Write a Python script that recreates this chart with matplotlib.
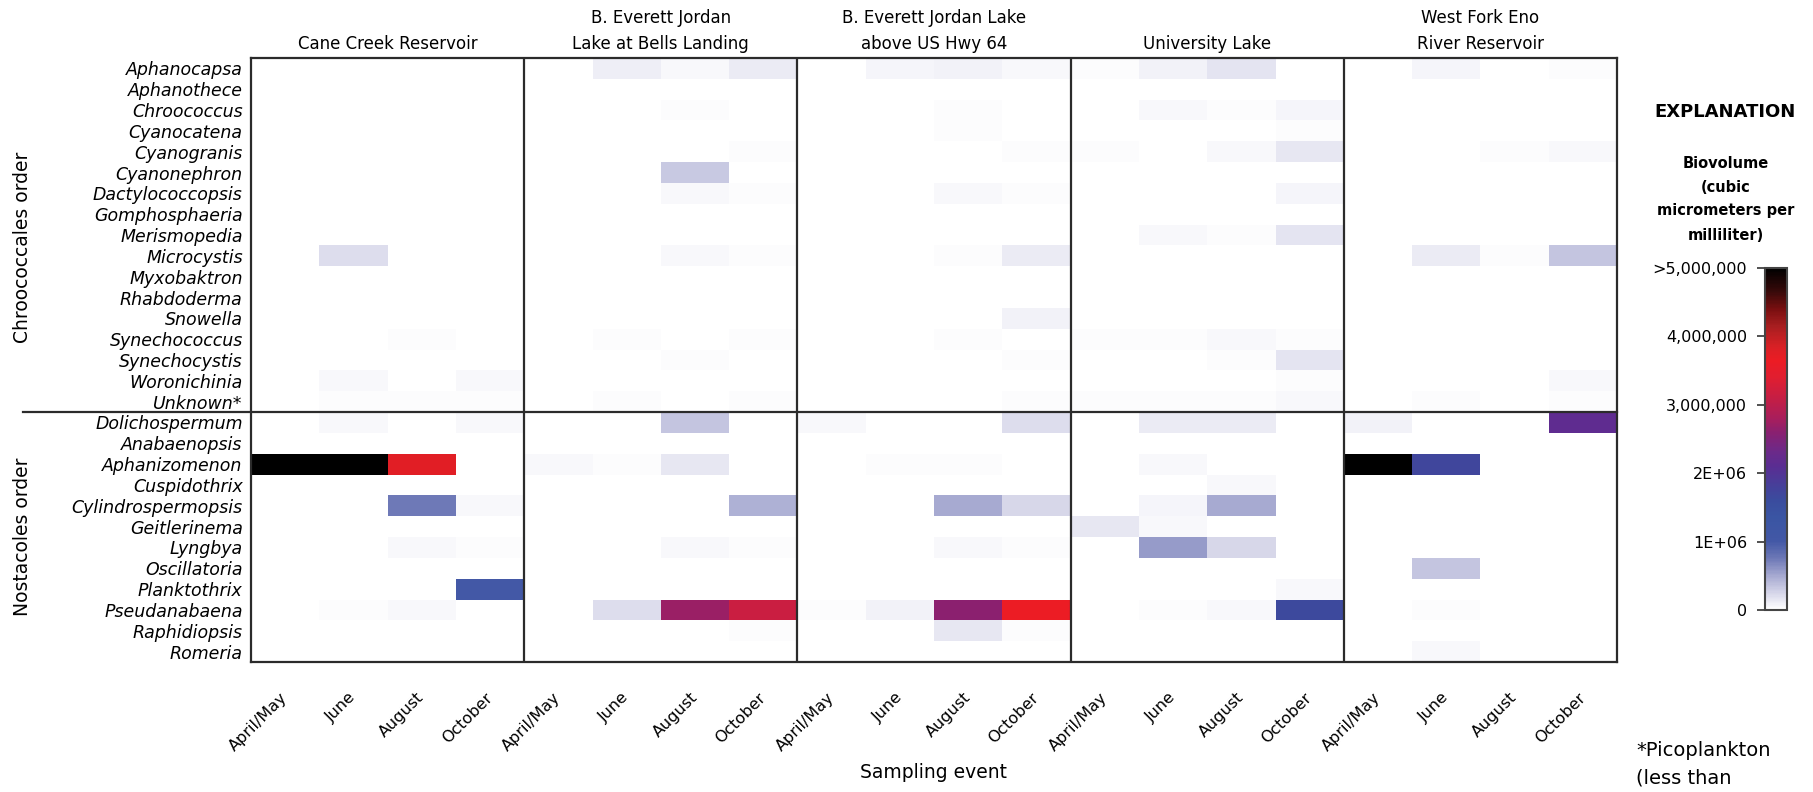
import numpy as np
import matplotlib
matplotlib.use("Agg")
import matplotlib.pyplot as plt
from matplotlib.colors import LinearSegmentedColormap, Normalize
from matplotlib.lines import Line2D
from matplotlib import transforms

lakes = ["Cane Creek Reservoir",
         "B. Everett Jordan\nLake at Bells Landing",
         "B. Everett Jordan Lake\nabove US Hwy 64",
         "University Lake",
         "West Fork Eno\nRiver Reservoir"]
events = ["April/May", "June", "August", "October"]

chroococcales = ["Aphanocapsa", "Aphanothece", "Chroococcus", "Cyanocatena",
                 "Cyanogranis", "Cyanonephron", "Dactylococcopsis", "Gomphosphaeria",
                 "Merismopedia", "Microcystis", "Myxobaktron", "Rhabdoderma",
                 "Snowella", "Synechococcus", "Synechocystis", "Woronichinia",
                 "Unknown*"]
nostocales = ["Dolichospermum", "Anabaenopsis", "Aphanizomenon", "Cuspidothrix",
              "Cylindrospermopsis", "Geitlerinema", "Lyngbya", "Oscillatoria",
              "Planktothrix", "Pseudanabaena", "Raphidiopsis", "Romeria"]

# biovolume in thousands of cubic micrometers per milliliter,
# one row per genus (chroococcales then nostocales), one column per event
cane_creek = [
    [0, 0, 0, 0], [0, 0, 0, 0], [0, 0, 0, 0], [0, 0, 0, 0],
    [0, 0, 0, 0], [0, 0, 0, 0], [0, 0, 0, 0], [0, 0, 0, 0],
    [0, 0, 0, 0], [0, 200, 0, 0], [0, 0, 0, 0], [0, 0, 0, 0],
    [0, 0, 0, 0], [0, 0, 25, 0], [0, 0, 0, 0], [0, 45, 0, 45],
    [0, 25, 25, 25],
    [0, 55, 0, 45], [0, 0, 0, 0], [5600, 5600, 3750, 0], [0, 0, 0, 0],
    [0, 0, 750, 45], [0, 0, 0, 0], [0, 0, 50, 25], [0, 0, 0, 0],
    [0, 0, 0, 1000], [0, 25, 45, 0], [0, 0, 0, 0], [0, 0, 0, 0],
]
bells_landing = [
    [0, 115, 55, 125], [0, 0, 0, 0], [0, 0, 35, 0], [0, 0, 0, 0],
    [0, 0, 0, 30], [0, 0, 325, 0], [0, 0, 45, 25], [0, 0, 0, 0],
    [0, 0, 0, 0], [0, 0, 55, 30], [0, 0, 0, 0], [0, 0, 0, 0],
    [0, 0, 0, 0], [0, 25, 0, 30], [0, 0, 25, 0], [0, 0, 0, 0],
    [0, 25, 0, 25],
    [0, 0, 350, 0], [0, 0, 0, 0], [45, 25, 150, 0], [0, 0, 0, 0],
    [0, 0, 0, 450], [0, 0, 0, 0], [0, 0, 50, 25], [0, 0, 0, 0],
    [0, 0, 0, 0], [0, 200, 2700, 3150], [0, 0, 0, 20], [0, 0, 0, 0],
]
hwy_64 = [
    [0, 60, 95, 45], [0, 0, 0, 0], [0, 0, 25, 0], [0, 0, 25, 0],
    [0, 0, 0, 25], [0, 0, 0, 0], [0, 0, 45, 25], [0, 0, 0, 0],
    [0, 0, 0, 0], [0, 0, 25, 125], [0, 0, 0, 0], [0, 0, 0, 0],
    [0, 0, 0, 95], [0, 0, 25, 0], [0, 0, 0, 25], [0, 0, 0, 0],
    [0, 0, 0, 25],
    [45, 0, 0, 200], [0, 0, 0, 0], [0, 25, 25, 0], [0, 0, 0, 0],
    [0, 0, 500, 250], [0, 0, 0, 0], [0, 0, 50, 25], [0, 0, 0, 0],
    [0, 0, 0, 0], [25, 95, 2600, 3650], [0, 0, 150, 25], [0, 0, 0, 0],
]
university = [
    [25, 95, 165, 0], [0, 0, 0, 0], [0, 45, 25, 60], [0, 0, 0, 25],
    [25, 0, 40, 140], [0, 0, 0, 0], [0, 0, 0, 60], [0, 0, 0, 0],
    [0, 55, 35, 165], [0, 0, 0, 0], [0, 0, 0, 0], [0, 0, 0, 0],
    [0, 0, 0, 0], [25, 25, 50, 25], [0, 0, 25, 165], [0, 0, 0, 25],
    [20, 20, 20, 45],
    [0, 125, 125, 0], [0, 0, 0, 0], [0, 45, 0, 0], [0, 0, 45, 0],
    [0, 60, 490, 0], [140, 45, 0, 0], [0, 570, 235, 0], [0, 0, 0, 0],
    [0, 0, 0, 45], [0, 25, 45, 1650], [0, 0, 0, 0], [0, 0, 0, 0],
]
west_fork = [
    [0, 60, 0, 35], [0, 0, 0, 0], [0, 0, 0, 0], [0, 0, 0, 0],
    [0, 0, 25, 45], [0, 0, 0, 0], [0, 0, 0, 0], [0, 0, 0, 0],
    [0, 0, 0, 0], [0, 125, 25, 350], [0, 0, 0, 0], [0, 0, 0, 0],
    [0, 0, 0, 0], [0, 0, 0, 0], [0, 0, 0, 0], [0, 0, 0, 55],
    [0, 25, 0, 25],
    [95, 0, 0, 2150], [0, 0, 0, 0], [5600, 1700, 0, 0], [0, 0, 0, 0],
    [0, 0, 0, 0], [0, 0, 0, 0], [0, 0, 0, 0], [0, 350, 0, 0],
    [0, 0, 0, 0], [0, 25, 0, 0], [0, 0, 0, 0], [0, 45, 0, 0],
]

cbar_ticks = [0, 1e6, 2e6, 3e6, 4e6, 5e6]
cbar_labels = ["0", "1E+06", "2E+06", "3,000,000", "4,000,000", ">5,000,000"]

# white -> lavender -> blue -> purple -> red -> black
nodes = [
    (0.00, "#ffffff"), (0.05, "#d4d4e8"), (0.10, "#a5a8d0"), (0.15, "#6d78b6"),
    (0.20, "#4358a6"), (0.27, "#3a55a3"), (0.32, "#3a4c9e"), (0.36, "#45409a"),
    (0.42, "#5a2d92"), (0.46, "#6a2a8a"), (0.52, "#8a2070"), (0.56, "#a81e5c"),
    (0.61, "#c01e48"), (0.68, "#e01e30"), (0.73, "#ec1c24"), (0.77, "#d82025"),
    (0.83, "#a81e20"), (0.88, "#7a0f10"), (0.93, "#3a0a0a"), (1.00, "#000000"),
]
cmap = LinearSegmentedColormap.from_list("biovolume", nodes)
norm = Normalize(vmin=0, vmax=5e6)

genera = chroococcales + nostocales
grid = np.hstack([np.array(t, dtype=float) for t in
                  (cane_creek, bells_landing, hwy_64, university, west_fork)]) * 1000
n_rows, n_cols = grid.shape

W, H = 1813, 792
fig = plt.figure(figsize=(W / 100, H / 100), dpi=100)
left, right, top, bottom = 251, 1617, 58, 662
ax = fig.add_axes([left / W, 1 - bottom / H, (right - left) / W, (bottom - top) / H])

mesh = ax.pcolormesh(np.arange(n_cols + 1), np.arange(n_rows + 1), grid,
                     cmap=cmap, norm=norm, shading="flat")
ax.set_xlim(0, n_cols)
ax.set_ylim(n_rows, 0)

edge = "#2b2b2b"
for s in ax.spines.values():
    s.set_color(edge)
    s.set_linewidth(1.6)
for k in range(1, len(lakes)):
    ax.axvline(k * len(events), color=edge, lw=1.6)

# line between the two orders, running out under the group labels
sep = transforms.blended_transform_factory(fig.transFigure, ax.transData)
fig.add_artist(Line2D([23 / W, right / W], [len(chroococcales)] * 2,
                      transform=sep, color=edge, lw=1.6, clip_on=False))

ax.set_yticks(np.arange(n_rows) + 0.5)
ax.set_yticklabels(genera, fontsize=12.5, fontstyle="italic")
ax.tick_params(axis="y", length=0, pad=6)

ax.set_xticks(np.arange(n_cols) + 0.5)
ax.set_xticklabels(events * len(lakes), fontsize=11.5, rotation=45,
                   ha="right", va="center", rotation_mode="anchor")
ax.tick_params(axis="x", length=0, pad=24)

tx = transforms.blended_transform_factory(ax.transData, ax.transAxes)
for k, name in enumerate(lakes):
    ax.text((k + 0.5) * len(events), 1 + 5 / (bottom - top), name, transform=tx,
            ha="center", va="bottom", fontsize=12, linespacing=1.55)

ty = transforms.blended_transform_factory(fig.transFigure, ax.transData)
fig.text(23 / W, 9.1, "Chroococcales order", transform=ty, rotation=90,
         ha="center", va="center", fontsize=13.5)
fig.text(23 / W, 23.0, "Nostacoles order", transform=ty, rotation=90,
         ha="center", va="center", fontsize=13.5)

fig.text((left + right) / 2 / W, 1 - 772 / H, "Sampling event",
         ha="center", va="center", fontsize=13.5)

# explanation block
cax = fig.add_axes([1765 / W, 1 - 610 / H, 22 / W, 342 / H])
cb = fig.colorbar(mesh, cax=cax, ticks=cbar_ticks)
cb.set_ticklabels(cbar_labels)
cax.yaxis.set_ticks_position("left")
cax.tick_params(length=6, width=1.2, color="#333333", labelsize=11.5, pad=7)
cb.outline.set_edgecolor("#444444")
cb.outline.set_linewidth(1.5)

fig.text(1725 / W, 1 - 112 / H, "EXPLANATION", ha="center", va="center",
         fontsize=13, fontweight="bold")
fig.text(1726 / W, 1 - 199 / H, "Biovolume\n(cubic\nmicrometers per\nmilliliter)",
         ha="center", va="center", fontsize=10.5, fontweight="bold", linespacing=1.75)
fig.text(1636 / W, 1 - 741 / H, "*Picoplankton\n(less than", ha="left", va="top",
         fontsize=14, linespacing=1.6)

fig.savefig("out.png", dpi=100)
